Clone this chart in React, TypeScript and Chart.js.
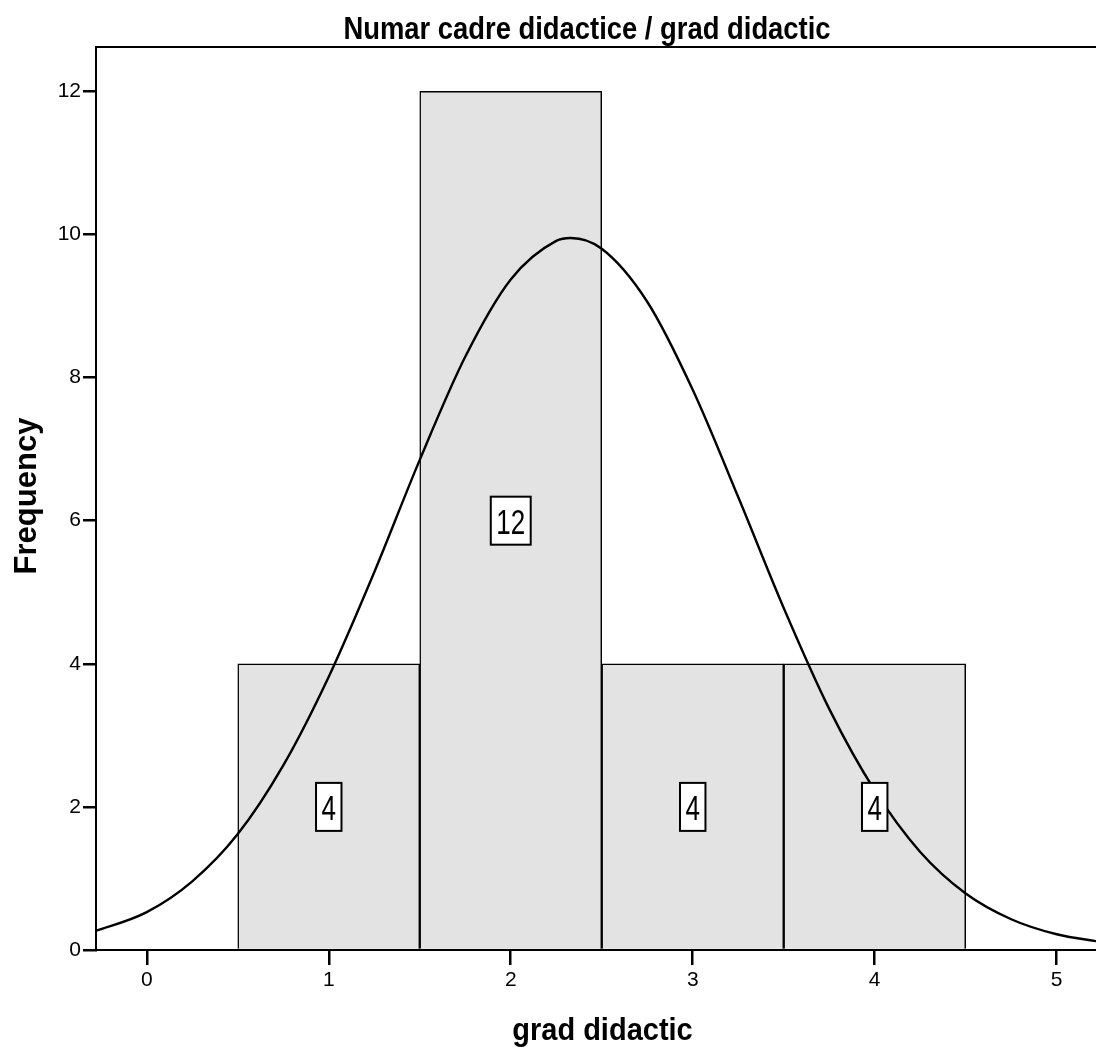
import React, { useEffect, useRef } from "react";
import { Chart, registerables } from "chart.js";

Chart.register(...registerables);

const titleText = "Numar cadre didactice / grad didactic";
const xTitle = "grad didactic";
const yTitle = "Frequency";

const binCenters = [1, 2, 3, 4];
const frequencies = [4, 12, 4, 4];

const curveX = [-0.3, 0, 0.25, 0.5, 0.75, 1, 1.25, 1.5, 1.75, 2, 2.25, 2.33, 2.5, 2.75, 3, 3.25, 3.5, 3.75, 4, 4.25, 4.5, 4.75, 5, 5.25];
const curveY = [0.25, 0.53, 0.96, 1.62, 2.58, 3.82, 5.28, 6.85, 8.29, 9.37, 9.91, 9.95, 9.8, 9.06, 7.83, 6.33, 4.78, 3.37, 2.23, 1.37, 0.79, 0.43, 0.22, 0.11];

const xMin = -0.279;
const xMax = 5.216;
const yMin = 0;
const yMax = 12.62;
const xStep = 1;
const yStep = 2;

const FONT = "'Liberation Sans', Arial, Helvetica, sans-serif";

const decorPlugin = {
  id: "decor",
  afterDatasetsDraw(chart: any) {
    const ctx = chart.ctx;
    const ca = chart.chartArea;
    const ys = chart.scales.y;
    ctx.save();
    // top frame line
    ctx.strokeStyle = "#000";
    ctx.lineWidth = 2;
    ctx.beginPath();
    ctx.moveTo(ca.left - 1, ca.top);
    ctx.lineTo(ca.right, ca.top);
    ctx.stroke();

    // value labels in boxes
    const meta = chart.getDatasetMeta(1);
    ctx.font = `26px ${FONT}`;
    ctx.textAlign = "center";
    ctx.textBaseline = "alphabetic";
    meta.data.forEach((el: any, i: number) => {
      const v = frequencies[i];
      const cx = el.x;
      const cy = ys.getPixelForValue(v / 2);
      const txt = String(v);
      const tw = ctx.measureText(txt).width;
      const bw = tw + 11;
      const bh = 48;
      ctx.fillStyle = "#fff";
      ctx.fillRect(cx - bw / 2, cy - bh / 2, bw, bh);
      ctx.strokeStyle = "#000";
      ctx.lineWidth = 2;
      ctx.strokeRect(cx - bw / 2, cy - bh / 2, bw, bh);
      ctx.save();
      ctx.translate(cx, cy + 13);
      ctx.scale(1, 1.35);
      ctx.fillStyle = "#000";
      ctx.fillText(txt, 0, 0);
      ctx.restore();
    });

    // chart title
    ctx.fillStyle = "#000";
    ctx.save();
    ctx.font = `bold 27.4px ${FONT}`;
    ctx.textAlign = "center";
    ctx.translate(587, 39);
    ctx.scale(1, 1.12);
    ctx.fillText(titleText, 0, 0);
    ctx.restore();

    // x title
    ctx.save();
    ctx.font = `bold 29px ${FONT}`;
    ctx.textAlign = "center";
    ctx.translate(602.5, 1040);
    ctx.scale(1, 1.05);
    ctx.fillText(xTitle, 0, 0);
    ctx.restore();

    // y title
    ctx.save();
    ctx.font = `bold 31px ${FONT}`;
    ctx.textAlign = "center";
    ctx.translate(36, 496);
    ctx.rotate(-Math.PI / 2);
    ctx.fillText(yTitle, 0, 0);
    ctx.restore();

    ctx.restore();
  },
};

export default function App() {
  const ref = useRef<HTMLCanvasElement | null>(null);

  useEffect(() => {
    if (!ref.current) return;
    const chart = new Chart(ref.current, {
      type: "bar",
      data: {
        datasets: [
          {
            type: "line",
            label: "Normal",
            data: curveX.map((x, i) => ({ x, y: curveY[i] })),
            borderColor: "#000",
            borderWidth: 2.4,
            pointRadius: 0,
            fill: false,
            cubicInterpolationMode: "monotone",
            order: 0,
          } as any,
          {
            type: "bar",
            label: "Frequency",
            data: binCenters.map((x, i) => ({ x, y: frequencies[i] })),
            backgroundColor: "#e3e3e3",
            borderColor: "#000",
            borderWidth: 1.5,
            barPercentage: 1,
            categoryPercentage: 1,
            order: 1,
          } as any,
        ],
      },
      options: {
        animation: false,
        responsive: false,
        devicePixelRatio: 1,
        layout: { padding: { top: 47, left: 0, right: 0, bottom: 0 } },
        plugins: {
          legend: { display: false },
          title: { display: false },
          tooltip: { enabled: false },
        },
        scales: {
          x: {
            type: "linear",
            min: xMin,
            max: xMax,
            offset: false,
            grid: {
              offset: false,
              drawOnChartArea: false,
              drawTicks: true,
              tickLength: 15,
              color: "#000",
              lineWidth: 2.5,
            },
            border: { display: true, color: "#000", width: 2 },
            ticks: {
              stepSize: xStep,
              includeBounds: false,
              padding: 3,
              color: "#000",
              font: { family: FONT, size: 21 },
              maxRotation: 0,
            },
            afterFit: (s: any) => {
              s.height = 99;
            },
          },
          y: {
            type: "linear",
            min: yMin,
            max: yMax,
            grid: {
              drawOnChartArea: false,
              drawTicks: true,
              tickLength: 13,
              color: "#000",
              lineWidth: 2.5,
            },
            border: { display: true, color: "#000", width: 2 },
            ticks: {
              stepSize: yStep,
              includeBounds: false,
              padding: 2,
              color: "#000",
              font: { family: FONT, size: 21 },
            },
            afterFit: (s: any) => {
              s.width = 96;
            },
          },
        },
      } as any,
      plugins: [decorPlugin],
    });
    return () => chart.destroy();
  }, []);

  return (
    <div style={{ position: "fixed", left: 0, top: 0, width: 1096, height: 1049, background: "#fff" }}>
      <canvas ref={ref} width={1096} height={1049} style={{ width: 1096, height: 1049, display: "block" }} />
    </div>
  );
}
